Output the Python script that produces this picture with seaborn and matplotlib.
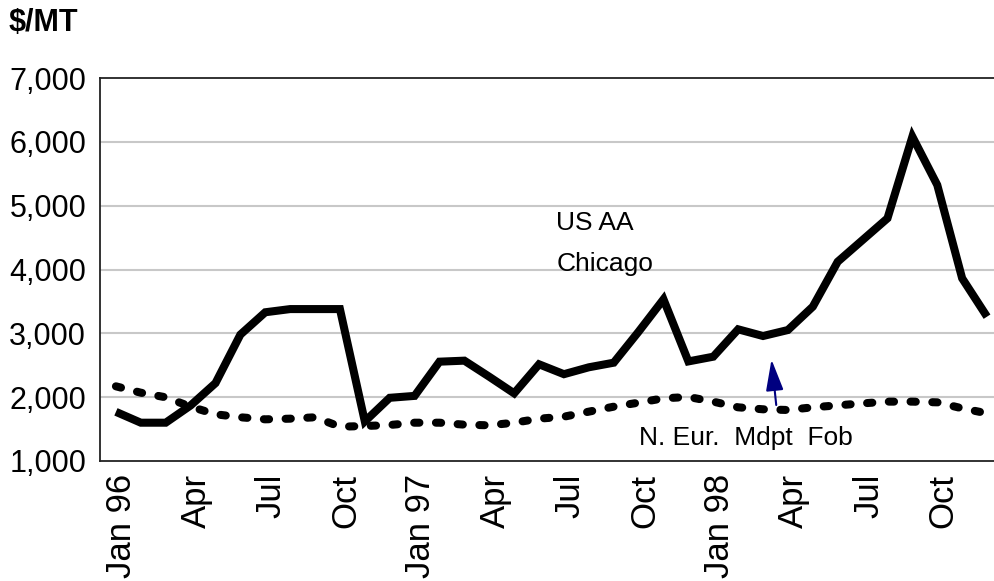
import matplotlib
matplotlib.use("Agg")
import matplotlib.pyplot as plt
import matplotlib.transforms as mtransforms
import seaborn as sns
import pandas as pd
import numpy as np

# ---- data ----
months = ["Jan 96", "Feb 96", "Mar 96", "Apr 96", "May 96", "Jun 96", "Jul 96", "Aug 96",
          "Sep 96", "Oct 96", "Nov 96", "Dec 96",
          "Jan 97", "Feb 97", "Mar 97", "Apr 97", "May 97", "Jun 97", "Jul 97", "Aug 97",
          "Sep 97", "Oct 97", "Nov 97", "Dec 97",
          "Jan 98", "Feb 98", "Mar 98", "Apr 98", "May 98", "Jun 98", "Jul 98", "Aug 98",
          "Sep 98", "Oct 98", "Nov 98", "Dec 98"]
us_aa_chicago = [1770, 1600, 1600, 1870, 2220, 2980, 3330, 3380, 3380, 3380, 1620, 1990,
                 2020, 2556, 2572, 2320, 2060, 2515, 2360, 2468, 2540, 3026, 3533, 2560,
                 2634, 3063, 2958, 3052, 3418, 4122, 4462, 4802, 6081, 5324, 3862, 3261]
n_eur_mdpt_fob = [2170, 2070, 1998, 1851, 1732, 1685, 1653, 1663, 1685, 1537, 1548, 1564,
                  1600, 1600, 1569, 1559, 1600, 1663, 1694, 1773, 1851, 1914, 1982, 2003,
                  1930, 1841, 1810, 1799, 1841, 1872, 1903, 1930, 1930, 1919, 1825, 1747]
tick_labels = ["Jan 96", "Apr", "Jul", "Oct", "Jan 97", "Apr", "Jul", "Oct",
               "Jan 98", "Apr", "Jul", "Oct"]
y_ticks = [1000, 2000, 3000, 4000, 5000, 6000, 7000]
y_tick_labels = ["1,000", "2,000", "3,000", "4,000", "5,000", "6,000", "7,000"]

idx = list(range(len(months)))
df = pd.DataFrame({"idx": idx + idx,
                   "value": us_aa_chicago + n_eur_mdpt_fob,
                   "series": ["US AA Chicago"] * len(idx) + ["N. Eur. Mdpt Fob"] * len(idx)})

sns.set_theme(style="white")
plt.rcParams["font.family"] = ["Liberation Sans", "DejaVu Sans"]
plt.rcParams["text.color"] = "black"
plt.rcParams["xtick.color"] = "black"
plt.rcParams["ytick.color"] = "black"

fig = plt.figure(figsize=(9.95, 5.81), dpi=100)
ax = fig.add_axes([100 / 995, 1 - 461 / 581, 0.9995 - 100 / 995, (461 - 78) / 581])

sns.lineplot(data=df[df.series == "US AA Chicago"], x="idx", y="value", ax=ax,
             color="black", lw=5.8, legend=False, solid_joinstyle="miter",
             solid_capstyle="butt")
sns.lineplot(data=df[df.series == "N. Eur. Mdpt Fob"], x="idx", y="value", ax=ax,
             color="black", lw=5.8, legend=False)
ln = ax.lines[-1]
ln.set_linestyle((0, (0.65, 2.05)))
ln.set_dash_capstyle("round")

ax.set_xlim(-0.64, 35.3)
ax.set_ylim(1000, 7000)

# y axis
ax.set_yticks(y_ticks)
ax.set_yticklabels(y_tick_labels, fontsize=22)
ax.set_yticks([1500, 2500, 3500, 4500, 5500, 6500], minor=True)
ax.tick_params(axis="y", which="major", length=0, pad=10)
ax.tick_params(axis="y", which="minor", direction="in", length=5, width=1, color="#333333")
for yv in y_ticks[1:-1]:
    ax.axhline(yv, color="#c8c8c8", lw=1.5, zorder=0)

# x axis
ax.set_xticks(idx, minor=True)
ax.set_xticks(idx[::3])
ax.set_xticklabels(tick_labels, fontsize=25, rotation=90)
ax.tick_params(axis="x", which="both", direction="in", length=10, width=1,
               color="#333333", pad=9)
offset = mtransforms.ScaledTranslation(6 / 100, 0, fig.dpi_scale_trans)
for lab in ax.get_xticklabels():
    lab.set_transform(lab.get_transform() + offset)

ax.set_xlabel("")
ax.set_ylabel("")
for s in ["left", "bottom", "top", "right"]:
    ax.spines[s].set_color("#222222")
    ax.spines[s].set_linewidth(1.3)

# texts
fig.text(9 / 995, 1 - 23 / 581, "$/MT", fontsize=22, fontweight="bold", va="center",
         ha="left")
ax.text(17.7, 4730, "US AA", fontsize=19, va="center", ha="left")
ax.text(17.7, 4090, "Chicago", fontsize=19, va="center", ha="left")
ax.text(21.0, 1360, "N. Eur.  Mdpt  Fob", fontsize=19, va="center", ha="left")

ax.annotate("", xy=(26.34, 2590), xytext=(26.53, 1877),
            arrowprops=dict(arrowstyle="-|>,head_length=1.6,head_width=0.45",
                            color="#000080", lw=1.5, shrinkA=0, shrinkB=0))

fig.savefig("out.png", dpi=100)
